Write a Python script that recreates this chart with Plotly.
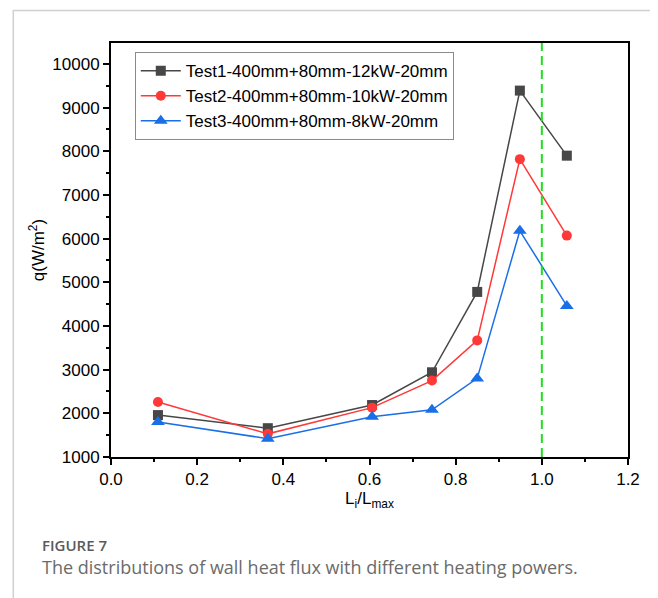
import plotly.graph_objects as go

x_vals = [0.109, 0.364, 0.606, 0.745, 0.85, 0.949, 1.058]
test1 = [1960, 1660, 2190, 2940, 4780, 9390, 7900]
test2 = [2260, 1530, 2130, 2750, 3670, 7820, 6070]
test3 = [1800, 1420, 1920, 2080, 2800, 6180, 4460]
names = ["Test1-400mm+80mm-12kW-20mm", "Test2-400mm+80mm-10kW-20mm", "Test3-400mm+80mm-8kW-20mm"]
colors = ["#474747", "#ff3838", "#1a6ee6"]
symbols = ["square", "circle", "triangle-up"]
ref_x = 1.0

fig = go.Figure()
for ys, nm, c, s in zip([test1, test2, test3], names, colors, symbols):
    fig.add_trace(go.Scatter(x=x_vals, y=ys, name=nm, mode="lines+markers",
                             line=dict(color=c, width=1.5),
                             marker=dict(symbol=s, size=10 if s != "triangle-up" else 12, color=c)))

fig.add_shape(type="line", x0=ref_x, x1=ref_x, y0=0, y1=1, xref="x", yref="paper",
              line=dict(color="#22dd22", width=2, dash="9px,5px"))

# outer light border
fig.add_shape(type="rect", xref="paper", yref="paper", x0=-0.189, x1=1.052, y0=-0.40, y1=1.0785,
              line=dict(color="#d0d0d0", width=1.5), fillcolor="rgba(0,0,0,0)", layer="below")

FONT = "Liberation Sans, Arial"
axis_common = dict(showline=True, linecolor="black", linewidth=2, mirror=True, ticks="outside",
                   ticklen=6, tickwidth=1.5, tickcolor="black", showgrid=False, zeroline=False,
                   tickfont=dict(family=FONT, size=17, color="black"))

fig.update_xaxes(range=[0, 1.2], dtick=0.2, tickformat=".1f",
                 minor=dict(dtick=0.1, ticks="outside", ticklen=3, tickwidth=1.5, tickcolor="black"),
                 title=dict(text="L<sub>i</sub>/L<sub>max</sub>", font=dict(family=FONT, size=17, color="black"), standoff=4),
                 **axis_common)
fig.update_yaxes(range=[1000, 10480], dtick=1000, tickformat="d",
                 minor=dict(dtick=500, ticks="outside", ticklen=3, tickwidth=1.5, tickcolor="black"),
                 title=dict(text="q(W/m<sup>2</sup>)", font=dict(family=FONT, size=17, color="black"), standoff=3),
                 **axis_common)

fig.add_annotation(text="FIGURE 7", xref="paper", yref="paper", x=-0.137, y=-0.2126,
                   xanchor="left", yanchor="middle", showarrow=False,
                   font=dict(family="Open Sans", size=15, color="#5a5a5a", weight=600))
fig.add_annotation(text="The distributions of wall heat flux with different heating powers.",
                   xref="paper", yref="paper", x=-0.137, y=-0.2657,
                   xanchor="left", yanchor="middle", showarrow=False,
                   font=dict(family="Open Sans", size=18, color="#6b6b6b"))

fig.update_layout(
    width=650, height=590,
    margin=dict(l=103, r=30, t=35, b=141),
    paper_bgcolor="white", plot_bgcolor="white",
    legend=dict(x=0.046, y=0.978, xanchor="left", yanchor="top",
                bgcolor="white", bordercolor="#8a8a8a", borderwidth=1,
                font=dict(family=FONT, size=17, color="black"),
                itemwidth=40, tracegroupgap=0),
    showlegend=True,
)

fig.write_html("out.html")
